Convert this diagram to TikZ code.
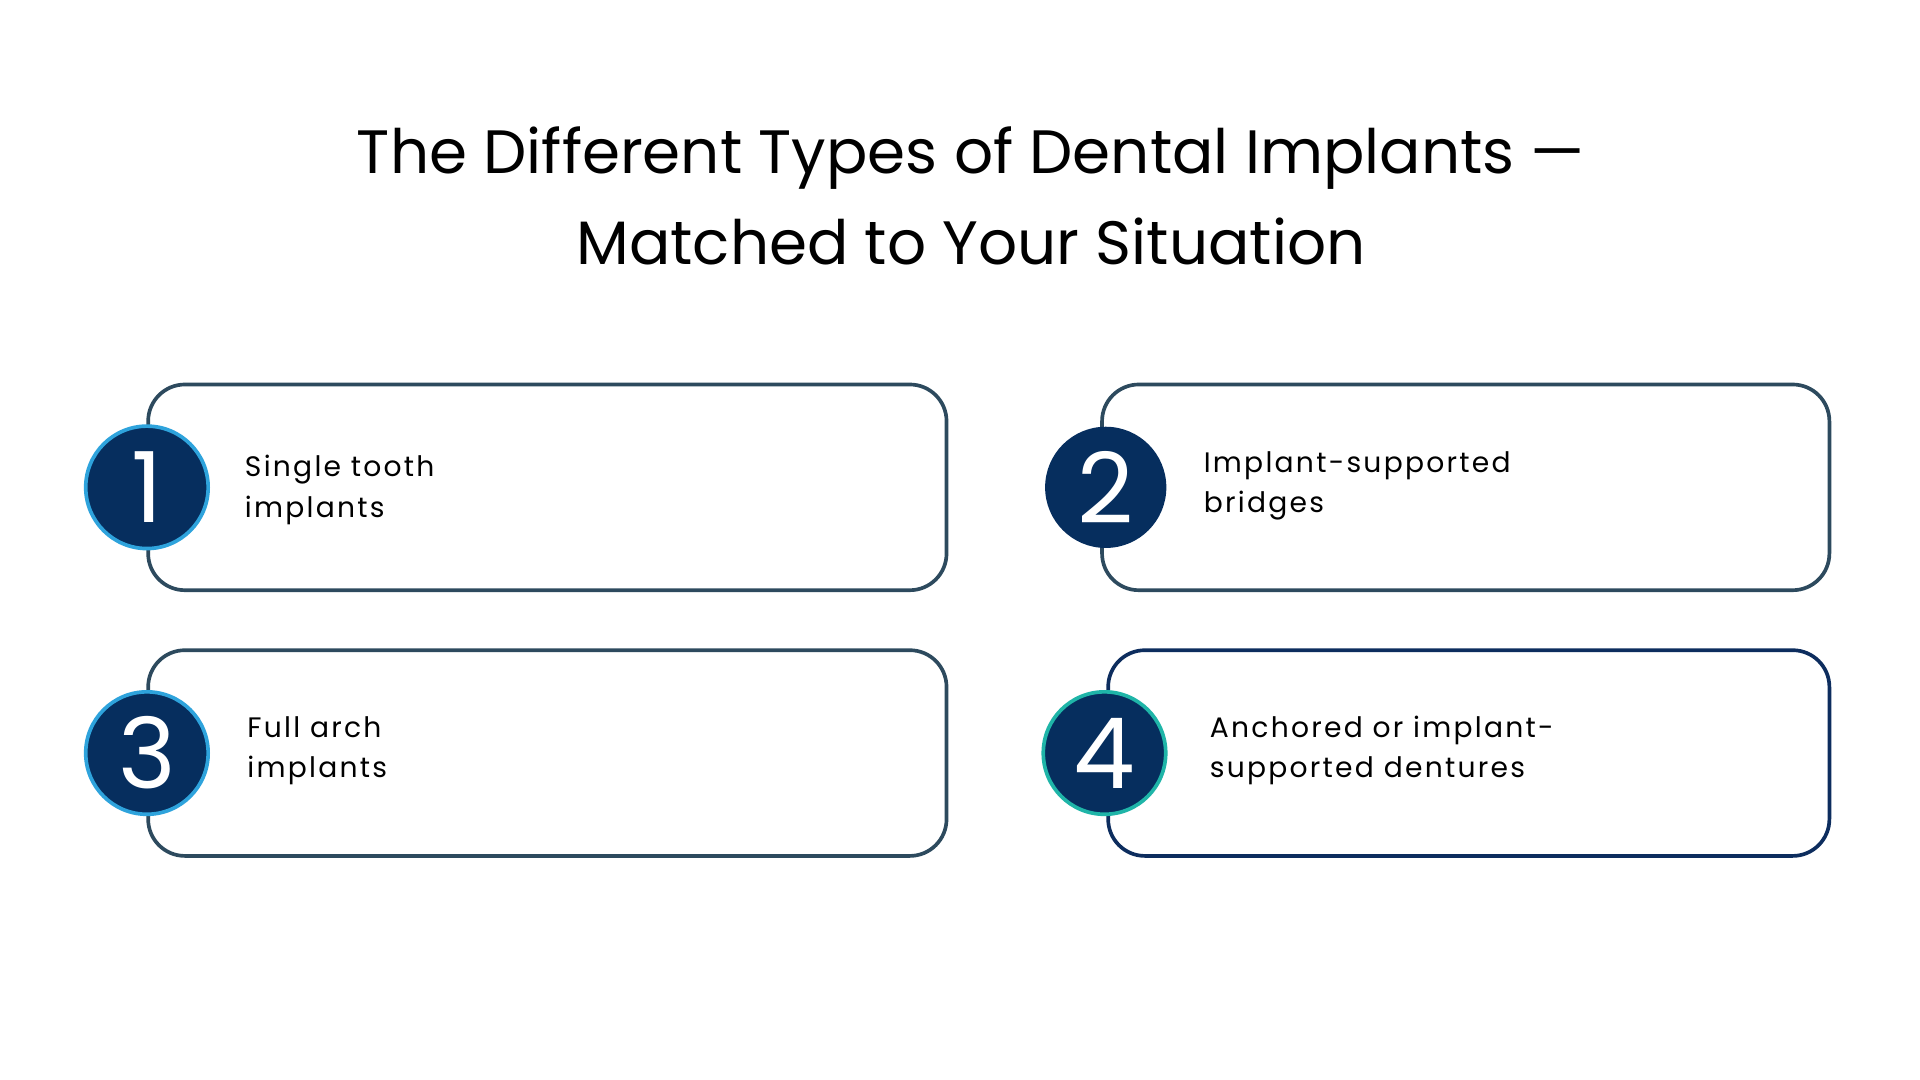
\documentclass[tikz,border=0pt]{standalone}
\usepackage{fontspec}
\setmainfont{Poppins}
\newfontfamily\spaced[LetterSpace=8]{Poppins}
\definecolor{navy}{HTML}{062E5E}
\definecolor{boxline}{HTML}{2D4A5E}
\definecolor{navyline}{HTML}{0D2D5E}
\definecolor{lblue}{HTML}{2EA3DC}
\definecolor{teal}{HTML}{1FB5A8}
\tikzset{
 card/.style={draw=boxline,line width=1.5pt,rounded corners=15pt,fill=white},
 num/.style={circle,fill=navy,line width=1.5pt,text=white,font=\fontsize{40}{40}\selectfont,inner sep=0pt},
 label/.style={anchor=west,align=left,font=\spaced\fontsize{11.5}{16.5}\selectfont,text=black},
}
\begin{document}
\begin{tikzpicture}[x=0.5pt,y=-0.5pt]
\useasboundingbox[fill=white] (0,0) rectangle (1568,882);
\node (title) at (793,160) [align=center,font=\fontsize{25}{37}\selectfont] {The Different Types of Dental Implants —\\Matched to Your Situation};
\draw[card] (121,314) rectangle (773,482);
\draw[card] (900,314) rectangle (1494,482);
\draw[card] (121,531) rectangle (773,699);
\draw[card,draw=navyline] (905,531) rectangle (1494,699);
\node[num,draw=lblue,minimum size=50pt] (n1) at (120,398) {1};
\node[num,draw=navy,minimum size=48pt] (n2) at (903,398) {2};
\node[num,draw=lblue,minimum size=50pt] (n3) at (120,615) {3};
\node[num,draw=teal,minimum size=50pt] (n4) at (902,615) {4};
\node[label] (t1) at (193,400) {Single tooth\\implants};
\node[label] (t2) at (976,397) {Implant-supported\\bridges};
\node[label] (t3) at (195,613) {Full arch\\implants};
\node[label] (t4) at (981,613) {Anchored or implant-\\supported dentures};
\end{tikzpicture}
\end{document}
